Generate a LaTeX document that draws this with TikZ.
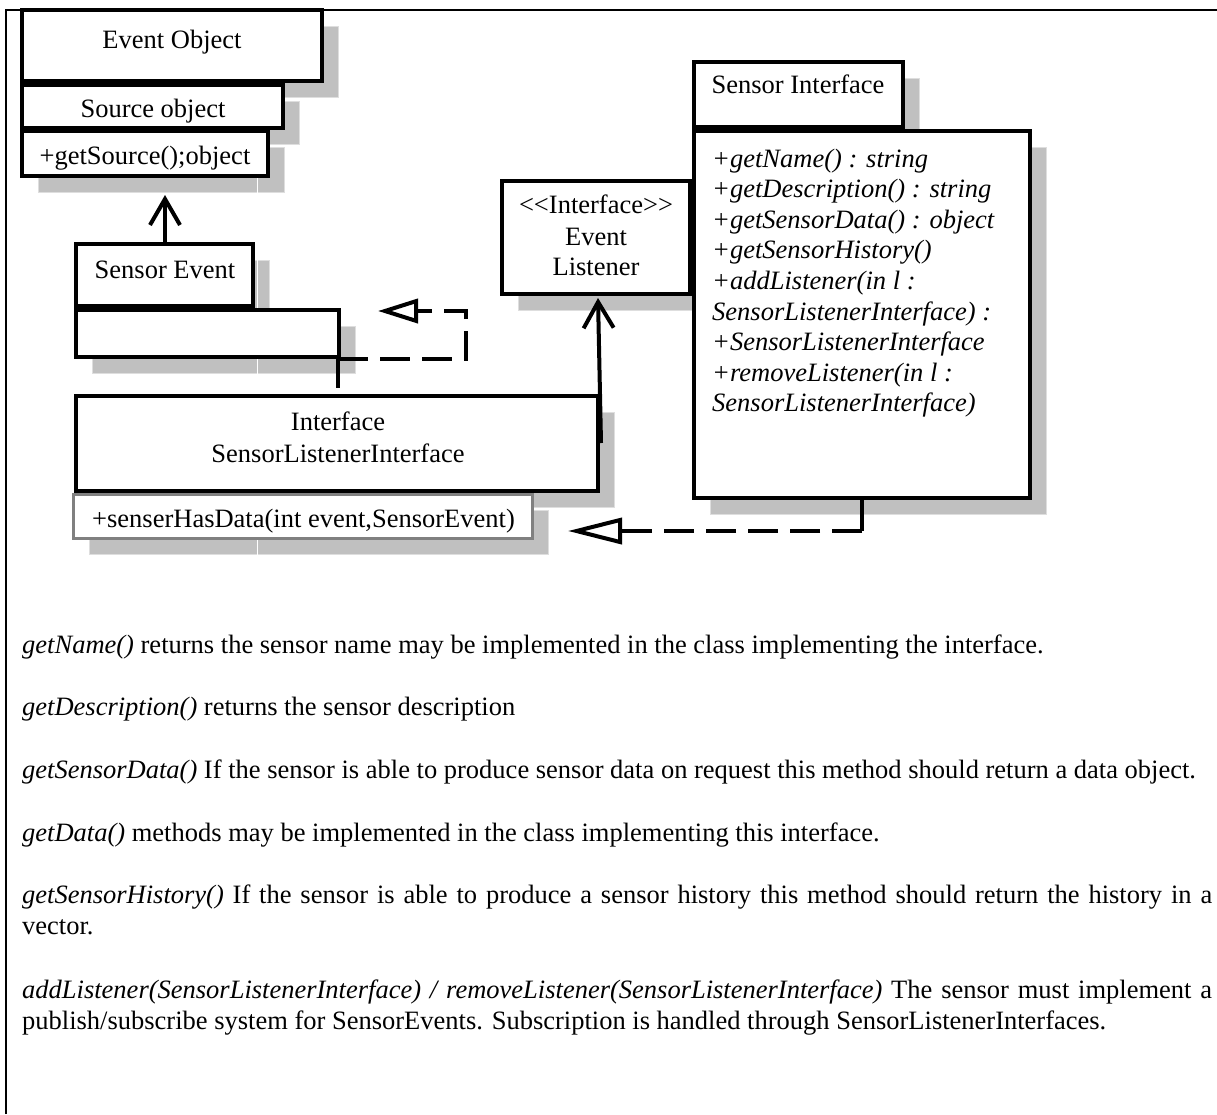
\documentclass[tikz,border=0pt]{standalone}
\usepackage{fontspec}
\setmainfont{Liberation Serif}
\usetikzlibrary{arrows.meta}
\pgfdeclarelayer{shadowlayer}
\pgfsetlayers{shadowlayer,main}
\definecolor{shadowgray}{RGB}{192,192,192}
\definecolor{shadowedge}{RGB}{222,222,222}
\definecolor{methodedge}{RGB}{128,128,128}

% class box with its drop shadow: [style]{name}{x1}{y1}{x2}{y2}
\newcommand\classbox[6][umlbox]{%
  \begin{pgfonlayer}{shadowlayer}
    \node[dropshadow, minimum width={(#5-#3)*1pt}, minimum height={(#6-#4)*1pt}]
      (#2-sh) at ({(#3+#5)/2+16},{(#4+#6)/2+16}) {};
  \end{pgfonlayer}
  \node[#1, minimum width={(#5-#3)*1pt}, minimum height={(#6-#4)*1pt}]
    (#2) at ({(#3+#5)/2},{(#4+#6)/2}) {};
}

\begin{document}
\begin{tikzpicture}[x=1pt,y=-1pt,
  every node/.style={font=\fontsize{26.5pt}{31pt}\selectfont},
  umlbox/.style={draw, line width=4pt, fill=white, inner sep=0pt},
  methodbox/.style={draw=methodedge, line width=3pt, fill=white, inner sep=0pt},
  dropshadow/.style={fill=shadowgray, draw=shadowedge, line width=1pt, inner sep=0pt},
  txt/.style={anchor=base, inner sep=0pt},
  txtleft/.style={anchor=base west, inner sep=0pt},
  conn/.style={line width=4pt},
  dashedconn/.style={line width=4pt, dash pattern=on 30pt off 12pt},
  openvee/.style={-{Straight Barb[length=26pt,width=30pt]}},
  realize/.style={-{Triangle[open,length=40pt,width=24pt]}},
  bigrealize/.style={-{Triangle[open,length=54pt,width=26pt]}},
]
\useasboundingbox (0,0) rectangle (1217,1114);

% page frame
\draw[line width=2.5pt] (6,1114) -- (6,10) -- (1217,10);

% Event Object class
\classbox{eo}{22}{10}{322}{81}
\classbox{src}{22}{85}{283}{128}
\classbox{gs}{22}{131}{268}{176}
\node[txt] (eot) at (172,48) {Event Object};
\node[txt] (srct) at (153,117) {Source object};
\node[txt] (gst) at (145,164) {+getSource();object};

% Sensor Event class
\classbox{se}{76}{244}{253}{306}
\classbox{sx}{76}{310}{339}{357}
\node[txt] (set) at (165,278) {Sensor Event};

% SensorListenerInterface
\classbox{ifc}{76}{396}{598}{491}
\classbox[methodbox]{shd}{73}{494}{532}{538}
\node[txt] (ifct1) at (338,430) {Interface};
\node[txt] (ifct2) at (338,462) {SensorListenerInterface};
\node[txtleft] (shdt) at (92,527) {+senserHasData(int event,SensorEvent)};

% Event Listener interface
\classbox{el}{502}{181}{690}{294}
\node[txt] (elt1) at (596,213) {<\kern0pt<Interface>\kern0pt>};
\node[txt] (elt2) at (596,245) {Event};
\node[txt] (elt3) at (596,275) {Listener};

% Sensor Interface
\classbox{sit}{694}{62}{903}{127}
\fill[white] (692,129) rectangle (905,131);
\classbox{sib}{694}{131}{1030}{498}
\node[txt] (sitt) at (798,93) {Sensor Interface};
\foreach \t [count=\i from 0] in {%
  {+getName() : string},
  {+getDescription() : string},
  {+getSensorData() : object},
  {+getSensorHistory()},
  {+addListener(in l :},
  {SensorListenerInterface) :},
  {+SensorListenerInterface},
  {+removeListener(in l :},
  {SensorListenerInterface)}}
  \node[txtleft, font=\fontsize{26.5pt}{31pt}\selectfont\itshape] (sim\i) at (712,{167+30.6*\i}) {\t};

% seam running through the shadow tiles
\begin{pgfonlayer}{shadowlayer}
  \draw[white, line width=1pt] (257,140) -- (257,560);
\end{pgfonlayer}

% connectors
\draw[conn, openvee] (se.north -| 165,0) -- (165,195) coordinate (gsTip);
\coordinate (ifcTap) at (601,443);
\coordinate (elTip) at (598,298);
\draw[conn, openvee] (ifcTap) -- (elTip);

\coordinate (g1a) at (338,357);
\coordinate (g1b) at (338,388);
\coordinate (g1c) at (338,359);
\coordinate (g1d) at (466,359);
\coordinate (g1e) at (466,311);
\coordinate (g1tip) at (378,311);
\draw[conn] (g1a) -- (g1b);
\draw[dashedconn, realize] (g1c) -- (g1d) -- (g1e) -- (g1tip);

\coordinate (g2a) at (862,498);
\coordinate (g2b) at (862,531);
\coordinate (g2tip) at (568,531);
\draw[conn] (g2a) -- (g2b);
\draw[dashedconn, bigrealize] (g2b) -- (g2tip);

% description text
\node[txtleft] (p1) at (22,653) {\textit{getName()} returns the sensor name may be implemented in the class implementing the interface.};
\node[txtleft] (p2) at (22,715) {\textit{getDescription()} returns the sensor description};
\node[txtleft] (p3) at (22,778) {\textit{getSensorData()} If the sensor is able to produce sensor data on request this method should return a data object.};
\node[txtleft] (p4) at (22,841) {\textit{getData()} methods may be implemented in the class implementing this interface.};
\node[txtleft] (p5a) at (22,903) {\makebox[1190pt][s]{\textit{getSensorHistory()} If the sensor is able to produce a sensor history this method should return the history in a}};
\node[txtleft] (p5b) at (22,934) {vector.};
\node[txtleft] (p6a) at (22,998) {\makebox[1190pt][s]{\textit{addListener(SensorListenerInterface) / removeListener(SensorListenerInterface)} The sensor must implement a}};
\node[txtleft] (p6b) at (22,1029) {publish/subscribe system for SensorEvents. Subscription is handled through SensorListenerInterfaces.};
\end{tikzpicture}
\end{document}
